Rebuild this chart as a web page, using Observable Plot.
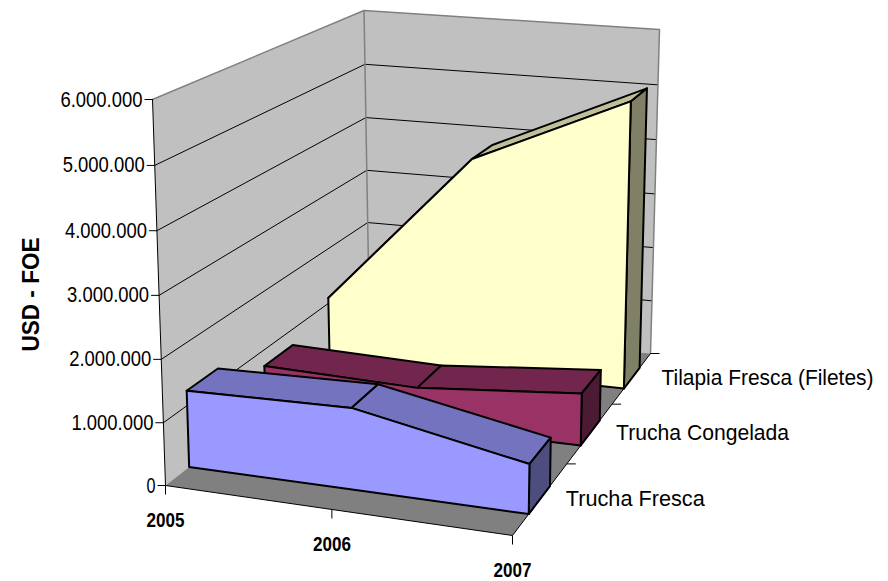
<!DOCTYPE html>
<html><head><meta charset="utf-8">
<script src="https://cdn.jsdelivr.net/npm/d3@7"></script>
<script src="https://cdn.jsdelivr.net/npm/@observablehq/plot@0.6"></script>
<style>html,body{margin:0;padding:0;background:#fff}</style>
</head><body><div id="chart"></div>
<script>
const years = [2005, 2006, 2007];
const seriesNames = ["Trucha Fresca", "Trucha Congelada", "Tilapia Fresca (Filetes)"];
const truchaFresca = [1240000, 1300000, 780000];
const truchaCongelada = [720000, 650000, 880000];
const tilapiaFresca = [1100000, 3870000, 5100000];
const valueTicks = [0, 1000000, 2000000, 3000000, 4000000, 5000000, 6000000];
const valueLabels = ["0", "1.000.000", "2.000.000", "3.000.000", "4.000.000", "5.000.000", "6.000.000"];
const allSeries = [truchaFresca, truchaCongelada, tilapiaFresca];
const faceColors = [
  {front: "#9999ff", top: "#7373bf", side: "#4d4d80", df: 0.28, db: 0.67},
  {front: "#993366", top: "#73264d", side: "#4d1a33", df: 0.29, db: 0.71},
  {front: "#ffffcc", top: "#bfbf99", side: "#808066", df: 0.29, db: 0.70}
];

const floorQuad = [[165,485],[512,535],[650,353],[369,325]];
const ceilQuad = [[152,99],[517,131],[659,29],[363.5,10]];
function homography(q) {
  const [[x0,y0],[x1,y1],[x2,y2],[x3,y3]] = q;
  const dx1=x1-x2, dx2=x3-x2, sx=x0-x1+x2-x3, dy1=y1-y2, dy2=y3-y2, sy=y0-y1+y2-y3;
  const det=dx1*dy2-dx2*dy1;
  const g=(sx*dy2-dx2*sy)/det, h=(dx1*sy-sx*dy1)/det;
  const a=x1-x0+g*x1, b=x3-x0+h*x3, d=y1-y0+g*y1, e=y3-y0+h*y3;
  return (u,v)=>{const w=g*u+h*v+1;return [(a*u+b*v+x0)/w,(d*u+e*v+y0)/w];};
}
const hFloor = homography(floorQuad), hCeil = homography(ceilQuad);
const maxValue = 6000000, vertPersp = 1.03;
function P(u,v,val){
  const f=hFloor(u,v), c=hCeil(u,v), r=val/maxValue, t=r/(r+vertPersp*(1-r));
  return {x:f[0]+(c[0]-f[0])*t, y:f[1]+(c[1]-f[1])*t};
}
const poly = (pts, fill, stroke, sw) => Plot.line([...pts, pts[0]], {x:"x", y:"y", fill, stroke: stroke||"none", strokeWidth: sw||1, strokeLinejoin:"round"});
const seg = (pts, stroke, sw) => Plot.line(pts, {x:"x", y:"y", stroke, strokeWidth: sw, strokeLinecap:"round"});

const marks = [];
marks.push(poly([P(0,1,0),P(1,1,0),P(1,1,maxValue),P(0,1,maxValue)],"#c0c0c0"));
marks.push(poly([P(0,0,0),P(0,1,0),P(0,1,maxValue),P(0,0,maxValue)],"#c0c0c0"));
marks.push(poly([P(0,0,0),P(1,0,0),P(1,1,0),P(0,1,0)],"#808080"));
for (const t of valueTicks.slice(1,-1)) marks.push(seg([P(0,0,t),P(0,1,t),P(1,1,t)],"#000",1));
marks.push(seg([P(0,0,maxValue),P(0,1,maxValue),P(1,1,maxValue),P(1,1,0)],"#808080",1.5));
marks.push(seg([P(0,1,maxValue),P(0,1,0)],"#808080",1.5));
marks.push(seg([P(0,0,maxValue),P(0,0,0),P(1,0,0),P(1,1,0)],"#000",1));
const vt = valueTicks.map(t=>({a:P(0,0,t),t}));
marks.push(Plot.link(vt,{x1:d=>d.a.x-8,x2:d=>d.a.x,y1:d=>d.a.y,y2:d=>d.a.y,stroke:"#000",strokeWidth:1}));
const yt = years.map((y,i)=>P(i/2,0,0));
marks.push(Plot.link(yt,{x1:"x",x2:"x",y1:"y",y2:d=>d.y+9,stroke:"#000",strokeWidth:1}));
const st = [1,2,3].map(i=>P(1,i/3,0));
marks.push(Plot.link(st,{x1:"x",x2:d=>d.x+9,y1:"y",y2:"y",stroke:"#000",strokeWidth:1}));
for (let i=2;i>=0;i--){
  const vals = allSeries[i], col = faceColors[i];
  const vf=(i+col.df)/3, vb=(i+col.db)/3;
  const uu = years.map((_,k)=>k/2);
  for (let k=0;k<2;k++){
    marks.push(poly([P(uu[k],vf,vals[k]),P(uu[k+1],vf,vals[k+1]),P(uu[k+1],vb,vals[k+1]),P(uu[k],vb,vals[k])],col.top,"#000",2));
  }
  marks.push(poly([P(1,vf,0),P(1,vb,0),P(1,vb,vals[2]),P(1,vf,vals[2])],col.side,"#000",2));
  marks.push(poly([P(0,vf,0),P(.5,vf,0),P(1,vf,0),P(1,vf,vals[2]),P(.5,vf,vals[1]),P(0,vf,vals[0])],col.front,"#000",2));
}
const font = {fontFamily:"Liberation Sans, Arial, sans-serif", fill:"#000"};
const seriesOffset = [[-1,35],[4,29],[11,24]];
const fitWidth = new Map([
  ...valueLabels.slice(1).map(s=>[s,82]), ["0",9],
  ...years.map(y=>[String(y),38]),
  ["Trucha Fresca",139],["Trucha Congelada",173],["Tilapia Fresca (Filetes)",212],["USD - FOE",114]
]);
marks.push(Plot.text(vt,{x:d=>d.a.x-10,y:d=>d.a.y,text:(d,i)=>valueLabels[i],textAnchor:"end",fontSize:22,...font}));
marks.push(Plot.text(yt,{x:"x",y:"y",dy:35,text:(d,i)=>String(years[i]),fontSize:21,fontWeight:"bold",...font}));
marks.push(Plot.text(st,{x:(d,i)=>d.x+seriesOffset[i][0],y:(d,i)=>d.y+seriesOffset[i][1],text:(d,i)=>seriesNames[i],textAnchor:"start",fontSize:22,...font}));
marks.push(Plot.text([{x:31,y:294}],{x:"x",y:"y",text:()=>"USD - FOE",rotate:-90,fontSize:24,fontWeight:"bold",...font}));

const chart = Plot.plot({
  width:888,height:581,margin:0,
  x:{domain:[0,888],range:[0,888],axis:null},
  y:{domain:[0,581],range:[0,581],axis:null},
  style:{background:"#fff"},
  marks
});
d3.select(chart).selectAll("text").each(function(){
  const w = fitWidth.get(this.textContent);
  if (w) d3.select(this).attr("textLength", w).attr("lengthAdjust","spacingAndGlyphs");
});
document.getElementById("chart").append(chart);
</script></body></html>
